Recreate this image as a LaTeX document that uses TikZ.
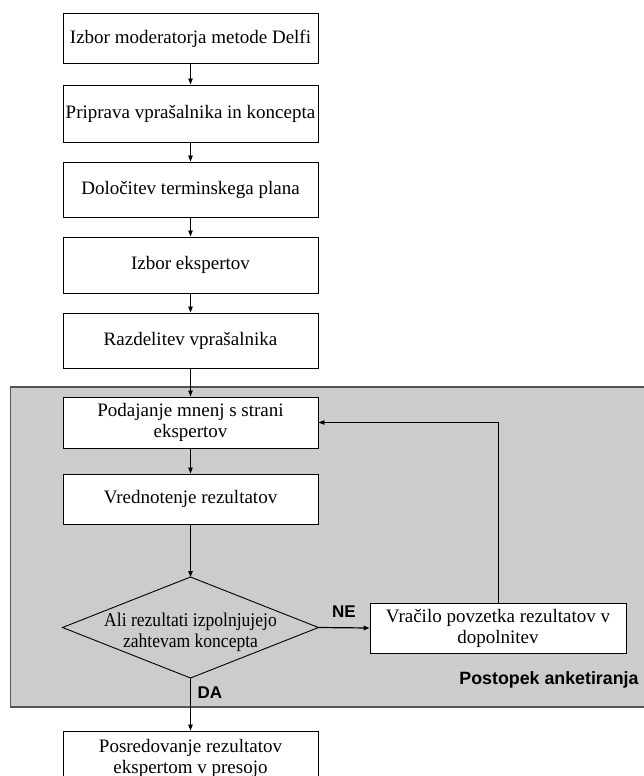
\documentclass[tikz,border=0pt]{standalone}
\usepackage{fontspec}
\setmainfont{Liberation Serif}
\newfontfamily\labelfont{Liberation Sans}
\newfontfamily\condfont[FakeStretch=0.9]{Liberation Serif}
\usetikzlibrary{arrows.meta,calc}
\definecolor{regiongray}{RGB}{204,204,204}
\definecolor{regionedge}{RGB}{85,85,85}
\begin{document}
\begin{tikzpicture}[x=1pt,y=-1pt,
  box/.style={draw=black, fill=white, line width=0.9pt, minimum width=255, inner sep=2pt,
    font=\fontsize{19}{21}\selectfont, align=center},
  arr/.style={draw=black, line width=0.8pt, -{Triangle[length=6pt,width=4.5pt]}},
  lbl/.style={font=\labelfont\bfseries\fontsize{17}{19}\selectfont, inner sep=0pt}
]
\useasboundingbox (0,0) rectangle (644,776);
% region
\path[fill=regiongray, draw=regionedge, line width=1.3pt] (10.5,387) rectangle (660,707);
% boxes
\node[box, minimum height=50] (b1) at (190.5,38.5) {Izbor moderatorja metode Delfi};
\node[box, minimum height=57] (b2) at (190.5,113.5) {Priprava vprašalnika in koncepta};
\node[box, minimum height=55] (b3) at (190.5,189.5) {Določitev terminskega plana};
\node[box, minimum height=56] (b4) at (190.5,265) {Izbor ekspertov};
\node[box, minimum height=55] (b5) at (190.5,340.5) {Razdelitev vprašalnika};
\node[box, minimum height=51] (b6) at (190.5,422.5) {Podajanje mnenj s strani\\ekspertov};
\node[box, minimum height=50] (b7) at (190.5,499) {Vrednotenje rezultatov};
\node[box, minimum height=50, minimum width=256] (b8) at (498,628) {Vračilo povzetka rezultatov v\\dopolnitev};
\node[box, minimum height=54] (b9) at (190.5,758) {Posredovanje rezultatov\\ekspertom v presojo};
% decision
\coordinate (dtop) at (190.5,577);
\coordinate (dright) at (318.5,627.5);
\coordinate (dbot) at (190.5,678);
\coordinate (dleft) at (62.5,627.5);
\draw[line width=0.9pt] (dtop) -- (dright) -- (dbot) -- (dleft) -- cycle;
\node[font=\condfont\fontsize{19.5}{21}\selectfont, align=center, inner sep=0pt] (dtext) at (190.5,632) {Ali rezultati izpolnjujejo\\zahtevam koncepta};
% connectors
\draw[arr] (b1) -- (b2);
\draw[arr] (b2) -- (b3);
\draw[arr] (b3) -- (b4);
\draw[arr] (b4) -- (b5);
\draw[arr] (b5) -- (b6);
\draw[arr] (b6) -- (b7);
\draw[arr] (b7.south) -- (dtop);
\draw[arr, line width=1.2pt] (dright) -- (b8.west);
\draw[arr] (b8.north) |- (b6.east);
\draw[arr] (dbot) -- (b9.north);
% labels
\node[lbl] (ne) at (344,612) {NE};
\node[lbl] (da) at (210,693) {DA};
\node[lbl, font=\labelfont\bfseries\fontsize{17.8}{19}\selectfont] (pa) at (549,680) {Postopek anketiranja};
\end{tikzpicture}
\end{document}
